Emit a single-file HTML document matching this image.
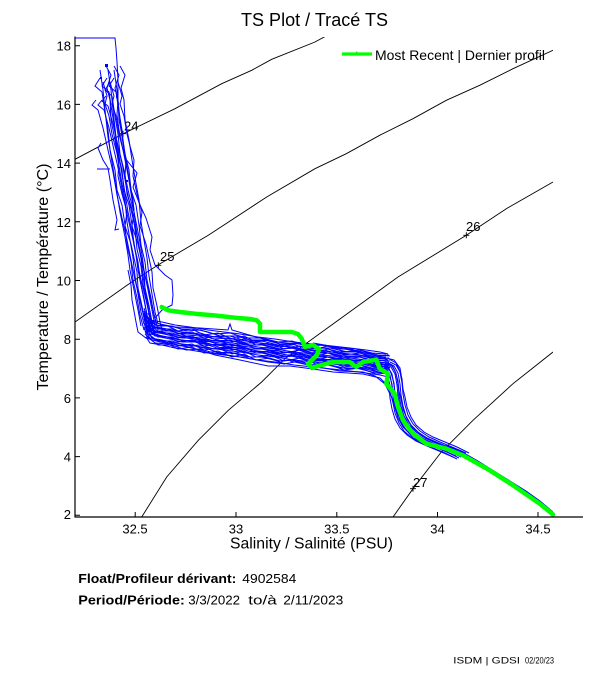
<!DOCTYPE html>
<html><head><meta charset="utf-8"><style>html,body{margin:0;padding:0;background:#fff}svg{display:block}</style></head>
<body>
<svg width="611" height="675" viewBox="0 0 611 675" xmlns="http://www.w3.org/2000/svg" xmlns:xlink="http://www.w3.org/1999/xlink" font-family="'Liberation Sans', Arial, sans-serif">
<rect width="611" height="675" fill="#fff"/>
<defs>
<clipPath id="pa"><rect x="75" y="37" width="478" height="480"/></clipPath>
<path id="u0" d="M108,70 L111,90 L113,110 L116,137 L120,162 L124,187 L128,212 L133,237 L136,255 L138,270 L142,290 L146,310 L149,326"/>
<path id="u1" d="M104,78 L99,86 L106,92 L109,112 L112,130 L114,150 L119,170 L121,190 L126,205 L129,225 L131,245 L135,262 L137,280 L141,298 L144,315 L148,330"/>
<path id="u2" d="M112,66 L117,75 L113,88 L116,100 L117,120 L121,140 L124,160 L127,178 L131,200 L133,222 L136,240 L139,258 L141,276 L144,294 L147,312 L150,324"/>
<path id="u3" d="M96,100 L92,105 L98,110 L103,128 L108,150 L113,172 L117,195 L122,218 L127,240 L131,260 L135,280 L140,300 L144,318 L147,330"/>
<path id="u4" d="M106,82 L110,96 L108,104 L112,116 L115,134 L118,146 L122,160 L121,176 L125,194 L130,212 L128,226 L134,244 L137,258 L140,272 L141,288 L145,306 L148,322 L151,334"/>
<path id="b0" d="M146,326 L150,332 L162,334 L175,337 L190,339 L208,342 L224,344 L240,346 L258,349 L275,351 L294,354 L313,356 L332,358 L350,360 L366,362 L380,364 L388,366"/>
<path id="b1" d="M148,322 L152,330 L160,333 L170,335 L182,338 L195,338 L208,341 L220,345 L236,345 L250,349 L265,349 L280,353 L296,352 L312,357 L330,357 L348,361 L362,360 L378,364 L390,365"/>
<path id="b2" d="M144,318 L147,328 L158,336 L172,336 L186,341 L200,340 L214,344 L230,343 L246,348 L262,348 L278,352 L292,351 L308,356 L324,355 L340,359 L356,359 L372,363 L386,364"/>
<path id="b3" d="M145,324 L155,333 L168,334 L178,339 L192,337 L204,343 L218,341 L232,347 L244,344 L256,350 L270,348 L284,354 L300,351 L316,357 L328,354 L344,360 L360,358 L376,364 L389,363"/>
<path id="lb" d="M386,364 L392,367 L396,374 L398,385 L399,396 L401,407 L404,417 L409,426 L416,433 L425,439 L436,444 L448,449 L462,455"/>
<path id="lb2" d="M384,362 L391,366 L394,372 L397,382 L398,392 L400,400 L402,410 L406,420 L411,428 L419,435 L428,440 L440,445 L452,450 L464,456"/>
<path id="d0" d="M446,448 L462,455 L478,464 L494,474 L510,484 L526,494 L540,504 L553,515"/>
</defs>

<!-- density contours -->
<g clip-path="url(#pa)" fill="none" stroke="#000" stroke-width="0.9">
<polyline points="75,159.3 123.3,133.7 175,108.7 221.7,83.7 251.7,70.3 271.7,59.3 315,42 326,36"/>
<polyline points="75,322 131.7,282 160,263.7 208.3,235.3 266.7,197 315,168.7 346.3,153.7 379.7,135.3 413,118.7 446.3,100.3 479.7,85.3 513,68.7 553,50.3"/>
<polyline points="141.7,517 166.7,477 198.3,440.3 228.3,410.3 261.7,382 285,358.7 314,337.8 398,277 466.3,235.3 506.3,208.7 553,182"/>
<polyline points="393,517 413,488.7 441.3,452 473,420.3 513,383.7 553,352"/>
</g>
<g stroke="#000" stroke-width="0.9">
<path d="M120,133.7 h6 M123,130.7 v6"/>
<path d="M155.3,265.3 h6 M158.3,262.3 v6"/>
<path d="M463.3,235.3 h6 M466.3,232.3 v6"/>
<path d="M410,488.7 h6 M413,485.7 v6"/>
</g>
<g font-size="13" fill="#000">
<text x="124" y="130.5">24</text>
<text x="160" y="261">25</text>
<text x="466" y="231">26</text>
<text x="413" y="487">27</text>
</g>

<!-- blue profiles -->
<g clip-path="url(#pa)" fill="none" stroke="#0000ff" stroke-width="1">
<use href="#u0" xlink:href="#u0" transform="translate(-8,0)"/>
<use href="#u0" xlink:href="#u0"/>
<use href="#u0" xlink:href="#u0" transform="translate(6,0)"/>
<use href="#u1" xlink:href="#u1" transform="translate(-4,0)"/>
<use href="#u1" xlink:href="#u1" transform="translate(3,0)"/>
<use href="#u1" xlink:href="#u1" transform="translate(10,0)"/>
<use href="#u2" xlink:href="#u2" transform="translate(-6,0)"/>
<use href="#u2" xlink:href="#u2" transform="translate(2,0)"/>
<use href="#u2" xlink:href="#u2" transform="translate(8,0)"/>
<use href="#u3" xlink:href="#u3"/>
<use href="#u3" xlink:href="#u3" transform="translate(6,0)"/>
<use href="#u4" xlink:href="#u4" transform="translate(-3,0)"/>
<use href="#u4" xlink:href="#u4" transform="translate(4,0)"/>
<use href="#u4" xlink:href="#u4" transform="translate(12,0)"/>
<use href="#u1" xlink:href="#u1" transform="translate(6,4)"/>
<use href="#u3" xlink:href="#u3" transform="translate(10,-4)"/>

<use href="#b0" xlink:href="#b0" transform="translate(0,-12)"/>
<use href="#b0" xlink:href="#b0" transform="translate(0,-6)"/>
<use href="#b0" xlink:href="#b0" transform="translate(0,-2)"/>
<use href="#b0" xlink:href="#b0" transform="translate(0,2)"/>
<use href="#b0" xlink:href="#b0" transform="translate(0,6)"/>
<use href="#b0" xlink:href="#b0" transform="translate(0,11)"/>
<use href="#b1" xlink:href="#b1" transform="translate(0,-9)"/>
<use href="#b1" xlink:href="#b1" transform="translate(0,-4)"/>
<use href="#b1" xlink:href="#b1"/>
<use href="#b1" xlink:href="#b1" transform="translate(0,4)"/>
<use href="#b1" xlink:href="#b1" transform="translate(0,8)"/>
<use href="#b2" xlink:href="#b2" transform="translate(0,-10)"/>
<use href="#b2" xlink:href="#b2" transform="translate(0,-7)"/>
<use href="#b2" xlink:href="#b2" transform="translate(0,-3)"/>
<use href="#b2" xlink:href="#b2" transform="translate(0,1)"/>
<use href="#b2" xlink:href="#b2" transform="translate(0,5)"/>
<use href="#b2" xlink:href="#b2" transform="translate(0,9)"/>
<use href="#b3" xlink:href="#b3" transform="translate(0,-8)"/>
<use href="#b3" xlink:href="#b3" transform="translate(0,-5)"/>
<use href="#b3" xlink:href="#b3" transform="translate(0,-1)"/>
<use href="#b3" xlink:href="#b3" transform="translate(0,3)"/>
<use href="#b3" xlink:href="#b3" transform="translate(0,7)"/>
<use href="#b3" xlink:href="#b3" transform="translate(0,10)"/>
<use href="#b0" xlink:href="#b0" transform="translate(0,-0.5)"/>
<use href="#b1" xlink:href="#b1" transform="translate(0,2.5)"/>
<use href="#b2" xlink:href="#b2" transform="translate(0,-5)"/>

<use href="#lb" xlink:href="#lb" transform="translate(-9,2)"/>
<use href="#lb" xlink:href="#lb" transform="translate(-6,1)"/>
<use href="#lb" xlink:href="#lb" transform="translate(-4,0)"/>
<use href="#lb" xlink:href="#lb" transform="translate(-1,0)"/>
<use href="#lb" xlink:href="#lb" transform="translate(2,-1)"/>
<use href="#lb" xlink:href="#lb" transform="translate(4,-2)"/>
<use href="#lb2" xlink:href="#lb2" transform="translate(-7,3)"/>
<use href="#lb2" xlink:href="#lb2" transform="translate(-3,1)"/>
<use href="#lb2" xlink:href="#lb2" transform="translate(1,-1)"/>
<use href="#lb2" xlink:href="#lb2" transform="translate(5,-3)"/>
<use href="#lb2" xlink:href="#lb2" transform="translate(-5,2)"/>
<use href="#lb" xlink:href="#lb" transform="translate(0,-1)"/>

<use href="#d0" xlink:href="#d0" transform="translate(0,-3)"/>
<use href="#d0" xlink:href="#d0" transform="translate(1,-2)"/>
<use href="#d0" xlink:href="#d0"/>

<polyline points="75,38 115,38 116,48 117,62 118,80 118,100 117,115 119,130 123,150 127,170 131,190 134,210"/>
<polyline points="110,169 97,169"/>
<polyline points="101,143 98,148 103,160 108,168 110,180 113,200 117,220 115,230 119,229"/>
<polyline points="125,158 137,173 133,187 140,205 146,218 152,237 150,250 155,265 165,275 172,280 173,295 172,305 162,310 155,318"/>
<polyline points="128,270 131,285 132,300 136,322 138,332 146,338 160,342 178,345 200,350 215,355 240,360 268,366 290,366 313,369 333,372 363,374 380,378 388,386"/>
<polyline points="160,325 175,327 200,328 228,330 230,324 232,330 256,337 275,342 300,344 320,345 333,347 350,350 370,354 388,360"/>
<polyline points="290,361 313,366 340,371 363,372 375,376 385,384 392,398 397,412 403,426 413,438 426,444 446,449"/>
<polyline points="313,343 330,346 345,348 360,352 378,356 394,360 400,368 402,380"/>
<polyline points="215,353 240,357 268,362 285,364"/>
</g>
<g fill="#0000ff">
<rect x="105" y="64" width="3" height="3"/>
<rect x="100" y="77" width="2" height="2"/>
<rect x="116" y="96" width="2" height="2"/>
<rect x="126" y="180" width="2" height="2"/>
</g>

<!-- most recent profile -->
<polyline fill="none" stroke="#00ff00" stroke-width="4.5" stroke-linejoin="round" stroke-linecap="round"
 points="161.7,307 168,310.3 180,312 195,313.7 215,315.5 235,317.7 250,319 256.7,320.3 260,323.7 260,332 275,332 291.7,332 298,334 301.7,338.7 305,347 313,345 319,349 317,355 312,360 308,364 312,368 318,366 333,362 349.7,362 356.3,367 363,362 376.3,359.7 379.7,368.7 388,373.7 386.3,383.7 394.7,393.7 398,407 403,420.3 413,433.7 426.3,443.7 446.3,448.7 463,455.3 489.7,470.3 513,485.3 539.7,503.7 553,514.5"/>

<!-- axes -->
<g stroke="#000" stroke-width="1.2" fill="none">
<line x1="75" y1="36.5" x2="75" y2="517"/>
<line x1="74.5" y1="517" x2="583" y2="517"/>
</g>
<g stroke="#000" stroke-width="1">
<path d="M75,45.7 h5 M75,104.4 h5 M75,163.1 h5 M75,221.8 h5 M75,280.5 h5 M75,339.2 h5 M75,397.9 h5 M75,456.6 h5 M75,515.3 h5"/>
<path d="M135.2,517 v-5 M236,517 v-5 M336.8,517 v-5 M437.5,517 v-5 M538,517 v-5"/>
</g>
<g font-size="13" fill="#000" text-anchor="end">
<text x="71" y="50.7">18</text>
<text x="71" y="109.4">16</text>
<text x="71" y="168.1">14</text>
<text x="71" y="226.8">12</text>
<text x="71" y="285.5">10</text>
<text x="71" y="344.2">8</text>
<text x="71" y="402.9">6</text>
<text x="71" y="461.6">4</text>
<text x="71" y="519">2</text>
</g>
<g font-size="13" fill="#000" text-anchor="middle">
<text x="135" y="533.3">32.5</text>
<text x="236" y="533.3">33</text>
<text x="336.8" y="533.3">33.5</text>
<text x="437.5" y="533.3">34</text>
<text x="538" y="533.3">34.5</text>
</g>

<text x="241" y="26" font-size="18" textLength="147" lengthAdjust="spacingAndGlyphs">TS Plot / Tracé TS</text>
<text x="230" y="548.3" font-size="16" textLength="163" lengthAdjust="spacingAndGlyphs">Salinity / Salinité (PSU)</text>
<text transform="translate(48,277) rotate(-90)" text-anchor="middle" font-size="16" textLength="227" lengthAdjust="spacingAndGlyphs">Temperature / Température (°C)</text>

<!-- legend -->
<line x1="342" y1="54" x2="372" y2="54" stroke="#00ff00" stroke-width="3.3"/>
<rect x="356" y="51.5" width="1.5" height="2" fill="#00ff00"/>
<text x="375" y="60" font-size="14" textLength="170" lengthAdjust="spacingAndGlyphs">Most Recent | Dernier profil</text>

<!-- footer -->
<g font-size="13" fill="#000">
<text x="78.3" y="583" font-weight="bold" textLength="158" lengthAdjust="spacingAndGlyphs">Float/Profileur dérivant:</text>
<text x="242.3" y="583" textLength="54" lengthAdjust="spacingAndGlyphs">4902584</text>
<text x="78.3" y="604.5" font-weight="bold" textLength="106.5" lengthAdjust="spacingAndGlyphs">Period/Période:</text>
<text x="188.3" y="604.5" textLength="51.7" lengthAdjust="spacingAndGlyphs">3/3/2022</text>
<text x="248.3" y="604.5" textLength="28.4" lengthAdjust="spacingAndGlyphs">to/à</text>
<text x="283.3" y="604.5" textLength="60" lengthAdjust="spacingAndGlyphs">2/11/2023</text>
</g>
<text x="453.3" y="663.7" font-size="9" textLength="66.7" lengthAdjust="spacingAndGlyphs">ISDM | GDSI</text>
<text x="525" y="663.7" font-size="9" textLength="29" lengthAdjust="spacingAndGlyphs">02/20/23</text>
</svg>
</body></html>
